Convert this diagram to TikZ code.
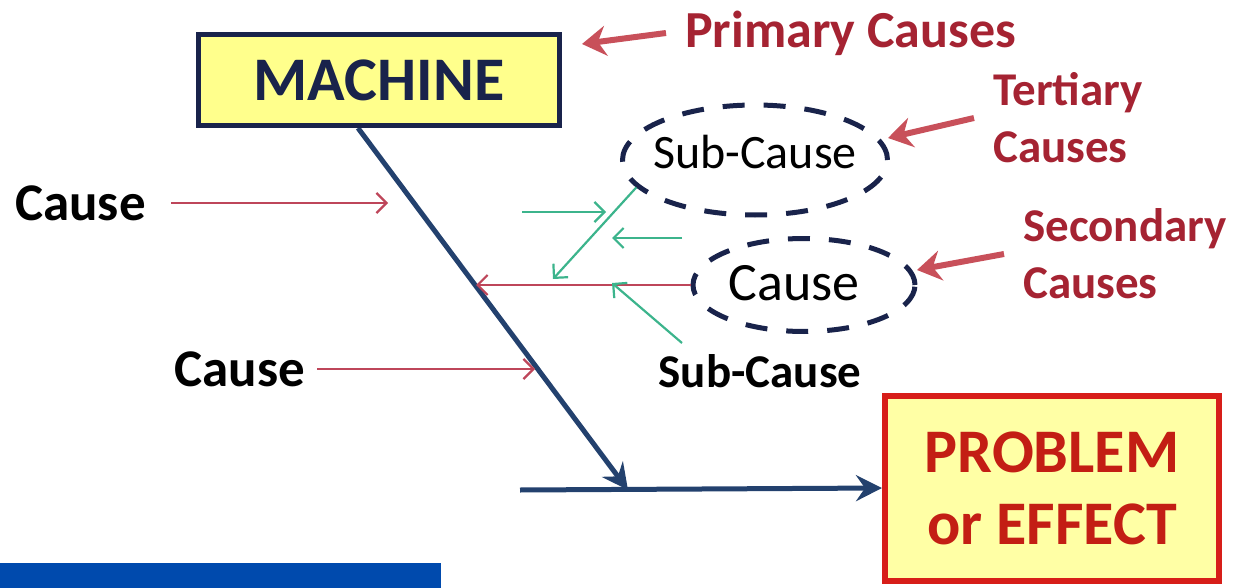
\documentclass[tikz,border=0pt]{standalone}
\usepackage{fontspec}
\setmainfont{Carlito}
\usetikzlibrary{arrows.meta,shapes.geometric}
\definecolor{navy}{RGB}{25,35,75}
\definecolor{spine}{RGB}{35,65,110}
\definecolor{boxyellow}{RGB}{255,255,140}
\definecolor{paleyellow}{RGB}{255,255,165}
\definecolor{effectred}{RGB}{215,30,25}
\definecolor{effecttext}{RGB}{195,30,20}
\definecolor{labelred}{RGB}{165,35,50}
\definecolor{arrowred}{RGB}{200,80,90}
\definecolor{linered}{RGB}{190,70,90}
\definecolor{subgreen}{RGB}{60,180,140}
\definecolor{barblue}{RGB}{0,74,173}
\begin{document}
\begin{tikzpicture}[x=1pt,y=-1pt,
    bone/.style={draw=spine,line width=5pt,-{Stealth[length=26pt,width=26pt,inset=9pt]}},
    hint/.style={draw=arrowred,line width=6pt,-{Stealth[length=24pt,width=30pt,inset=8pt]}},
    thinred/.style={draw=linered,line width=2.2pt,-{Straight Barb[length=10pt,width=20pt]}},
    thingreen/.style={draw=subgreen,line width=2.2pt,-{Straight Barb[length=10pt,width=20pt]}},
    cloud/.style={ellipse,draw=navy,line width=5pt,dash pattern=on 22pt off 19pt,inner sep=0pt},
    redlabel/.style={anchor=west,align=left,inner xsep=19pt,text=labelred,font=\fontsize{47}{57}\selectfont\bfseries},
    causelabel/.style={anchor=east,inner ysep=0pt,text=black,font=\fontsize{53}{60}\selectfont\bfseries}]
  \useasboundingbox (0,0) rectangle (1249,588);
  \fill[barblue] (0,563) rectangle (441,588);

  % fish bone
  \coordinate (top) at (358,128);
  \coordinate (joint) at (628,490);
  \coordinate (tail) at (520,490);
  \draw[bone] (top) -- (joint);
  \node[rectangle,draw=navy,fill=boxyellow,line width=5pt,minimum width=361pt,minimum height=91pt,
        text=navy,font=\fontsize{62}{70}\selectfont\bfseries] (machine) at (379,80) {MACHINE};
  \node[rectangle,draw=effectred,fill=paleyellow,line width=6pt,minimum width=334pt,minimum height=185pt,
        align=center,text=effecttext,font=\fontsize{62}{72}\selectfont\bfseries] (problem) at (1052,488) {PROBLEM\\or EFFECT};
  \draw[bone] (tail) -- (problem.west);

  % primary causes
  \node[causelabel,inner xsep=25pt] (c1) at (171,203) {Cause};
  \coordinate (c1tip) at (388,203);
  \draw[thinred] (c1.east) -- (c1tip);
  \node[causelabel,inner xsep=12pt] (c2) at (317,369) {Cause};
  \coordinate (c2tip) at (535,369);
  \draw[thinred] (c2.east) -- (c2tip);

  % secondary and tertiary
  \node[cloud,minimum width=265pt,minimum height=110pt,
        label={[yshift=8pt,font=\fontsize{48}{56}\selectfont]center:Sub-Cause}] (sub) at (755,160) {};
  \node[cloud,minimum width=222pt,minimum height=93pt,
        label={[xshift=-10pt,yshift=2pt,font=\fontsize{54}{60}\selectfont]center:Cause}] (cs) at (804,285) {};
  \coordinate (hit) at (476,285);
  \draw[thinred] (cs.west) -- (hit);
  \coordinate (g1) at (553,279);
  \draw[thingreen] (sub.193) -- (g1);
  \coordinate (g2s) at (522,212);
  \coordinate (g2) at (606,212);
  \draw[thingreen] (g2s) -- (g2);
  \coordinate (g3s) at (682,238);
  \coordinate (g3) at (612,238);
  \draw[thingreen] (g3s) -- (g3);
  \node[font=\fontsize{47}{56}\selectfont\bfseries] (sub2) at (760,371) {Sub-Cause};
  \coordinate (g4s) at (682,343);
  \coordinate (g4) at (612,283);
  \draw[thingreen] (g4s) -- (g4);

  % labels
  \node[redlabel,font=\fontsize{52}{60}\selectfont\bfseries] (primary) at (666,33) {Primary Causes};
  \coordinate (ptip) at (582,44);
  \draw[hint] (primary.west) -- (ptip);
  \node[redlabel] (tert) at (974,118) {Tertiary\\Causes};
  \coordinate (ttip) at (888,138);
  \draw[hint] (tert.west) -- (ttip);
  \node[redlabel] (second) at (1004,254) {Secondary\\Causes};
  \coordinate (stip) at (917,270);
  \draw[hint] (second.west) -- (stip);
\end{tikzpicture}
\end{document}
